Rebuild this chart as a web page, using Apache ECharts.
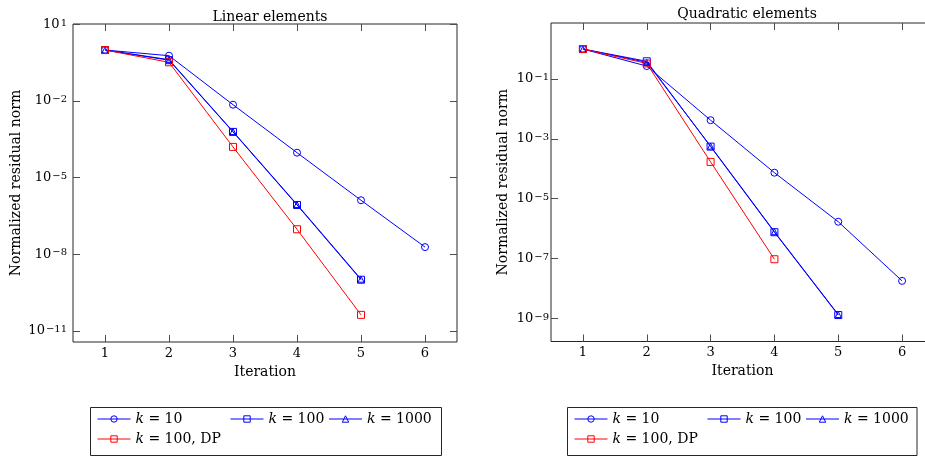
<!DOCTYPE html>
<html>
<head>
<meta charset="utf-8">
<script src="https://cdn.jsdelivr.net/npm/echarts@6/dist/echarts.min.js"></script>
<style>
html, body { margin: 0; padding: 0; background: #fff; }
#chart { width: 925px; height: 459px; }
</style>
</head>
<body>
<div id="chart"></div>
<script>
// iteration numbers on the x axis
var iterations = [1, 2, 3, 4, 5, 6];
var seriesNames = ['k = 10', 'k = 100', 'k = 1000', 'k = 100, DP'];

// linear elements, normalized residual norm per iteration
var linK10 = [1.0, 0.6, 7.2e-3, 9.5e-5, 1.3e-6, 1.9e-8];
var linK100 = [1.0, 0.4, 6.2e-4, 8.5e-7, 1.0e-9];
var linK1000 = [1.0, 0.42, 6.4e-4, 8.9e-7, 1.05e-9];
var linDP = [1.0, 0.33, 1.6e-4, 9.5e-8, 4.2e-11];

// quadratic elements
var quadK10 = [1.0, 0.27, 4.2e-3, 7.4e-5, 1.7e-6, 1.8e-8];
var quadK100 = [1.0, 0.39, 5.5e-4, 7.6e-7, 1.3e-9];
var quadK1000 = [1.0, 0.36, 5.7e-4, 7.9e-7, 1.35e-9];
var quadDP = [1.0, 0.33, 1.7e-4, 9.5e-8];

// y tick exponents (powers of ten)
var linTicks = [1, -2, -5, -8, -11];
var quadTicks = [-1, -3, -5, -7, -9];

var FONT = 'DejaVu Serif';
var BLUE = '#0000ff';
var RED = '#ff0000';

function toPoints(vals) {
    return vals.map(function (v, i) {
        return [iterations[i], Math.log10(v)];
    });
}

function powLabel(v) {
    var e = Math.round(v);
    return '10{s|' + (e < 0 ? '\u2212' + (-e) : String(e)) + '}';
}

var labelRich = {
    s: { fontFamily: FONT, fontSize: 10, color: '#000', verticalAlign: 'top', padding: [0, 0, 0, 1] }
};

function ticksAt(values) {
    return { inside: true, length: 7, lineStyle: { color: '#4d4d4d', width: 1 }, customValues: values };
}

// mirror axes keep their labels but print nothing, so the ticks follow the same values
function blankLabels(values) {
    return { show: true, customValues: values, formatter: function () { return ''; } };
}

function xAxes(grid) {
    return [{
        type: 'value', gridIndex: grid, position: 'bottom', min: 0.5, max: 6.5,
        splitLine: { show: false }, axisLine: { show: false, onZero: false }, axisTick: ticksAt(iterations),
        axisLabel: { customValues: iterations, margin: 5, fontFamily: FONT, fontSize: 13, color: '#000' },
        name: 'Iteration', nameLocation: 'middle', nameGap: 16,
        nameTextStyle: { fontFamily: FONT, fontSize: 14, color: '#000' }
    }, {
        type: 'value', gridIndex: grid, position: 'top', min: 0.5, max: 6.5,
        splitLine: { show: false }, axisLine: { show: false, onZero: false }, axisTick: ticksAt(iterations),
        axisLabel: blankLabels(iterations)
    }];
}

function yAxes(grid, min, max, ticks, margin, nameGap) {
    return [{
        type: 'value', gridIndex: grid, position: 'left', min: min, max: max,
        splitLine: { show: false }, axisLine: { show: false, onZero: false }, axisTick: ticksAt(ticks),
        axisLabel: {
            customValues: ticks, margin: margin, fontFamily: FONT, fontSize: 13, color: '#000',
            formatter: powLabel, rich: labelRich
        },
        name: 'Normalized residual norm', nameLocation: 'middle', nameGap: nameGap,
        nameTextStyle: { fontFamily: FONT, fontSize: 14, color: '#000' }
    }, {
        type: 'value', gridIndex: grid, position: 'right', min: min, max: max,
        splitLine: { show: false }, axisLine: { show: false, onZero: false }, axisTick: ticksAt(ticks),
        axisLabel: blankLabels(ticks)
    }];
}

function makeSeries(grid, name, vals, color, symbol, size) {
    return {
        type: 'line', name: name, xAxisIndex: grid * 2, yAxisIndex: grid * 2,
        data: toPoints(vals), symbol: symbol, symbolSize: size, showAllSymbol: true,
        lineStyle: { color: color, width: 1 },
        itemStyle: { color: 'rgba(255,255,255,0)', borderColor: color, borderWidth: 1 },
        emphasis: { disabled: true }, silent: true
    };
}

function legends(boxLeft) {
    var lefts = [boxLeft + 7, boxLeft + 140, boxLeft + 238.5, boxLeft + 7];
    var tops = [412, 412, 412, 432];
    return seriesNames.map(function (n, i) {
        return {
            data: [n], left: lefts[i], top: tops[i], padding: 0, orient: 'horizontal',
            itemWidth: 33, itemHeight: 8, selectedMode: false,
            lineStyle: { width: 1 },
            itemStyle: { borderWidth: 1 },
            formatter: function (name) { return '{i|k}' + name.slice(1); },
            textStyle: {
                fontFamily: FONT, fontSize: 14, color: '#000',
                rich: { i: { fontFamily: FONT, fontSize: 14, fontStyle: 'italic', color: '#000' } }
            }
        };
    });
}

var myChart = echarts.init(document.getElementById('chart'), null, { renderer: 'canvas' });

var option = {
    animation: false,
    backgroundColor: '#fff',
    title: [
        { text: 'Linear elements', left: 265, top: 5, textAlign: 'center',
          textStyle: { fontFamily: FONT, fontSize: 14, fontWeight: 'normal', color: '#000' } },
        { text: 'Quadratic elements', left: 742, top: 2, textAlign: 'center',
          textStyle: { fontFamily: FONT, fontSize: 14, fontWeight: 'normal', color: '#000' } }
    ],
    grid: [
        { left: 73, top: 24, width: 384, height: 318, show: true, borderColor: '#262626', borderWidth: 1,
          outerBoundsMode: 'none', containLabel: false },
        { left: 551, top: 23, width: 383, height: 318.5, show: true, borderColor: '#262626', borderWidth: 1,
          outerBoundsMode: 'none', containLabel: false }
    ],
    xAxis: xAxes(0).concat(xAxes(1)),
    yAxis: yAxes(0, -11.44, 1.02, linTicks, 6, 50).concat(yAxes(1, -9.77, 0.87, quadTicks, 2, 41)),
    legend: legends(90).concat(legends(567)),
    graphic: [
        { type: 'rect', silent: true, shape: { x: 90.5, y: 407.5, width: 351, height: 48 },
          style: { fill: 'none', stroke: '#262626', lineWidth: 1 } },
        { type: 'rect', silent: true, shape: { x: 567.5, y: 407.5, width: 349.5, height: 48 },
          style: { fill: 'none', stroke: '#262626', lineWidth: 1 } }
    ],
    series: [
        makeSeries(0, seriesNames[0], linK10, BLUE, 'circle', 7),
        makeSeries(0, seriesNames[1], linK100, BLUE, 'rect', 7),
        makeSeries(0, seriesNames[2], linK1000, BLUE, 'triangle', 6),
        makeSeries(0, seriesNames[3], linDP, RED, 'rect', 7),
        makeSeries(1, seriesNames[0], quadK10, BLUE, 'circle', 7),
        makeSeries(1, seriesNames[1], quadK100, BLUE, 'rect', 7),
        makeSeries(1, seriesNames[2], quadK1000, BLUE, 'triangle', 6),
        makeSeries(1, seriesNames[3], quadDP, RED, 'rect', 7)
    ]
};

myChart.setOption(option);

window.addEventListener('resize', function () {
    myChart.resize();
});
</script>
</body>
</html>
